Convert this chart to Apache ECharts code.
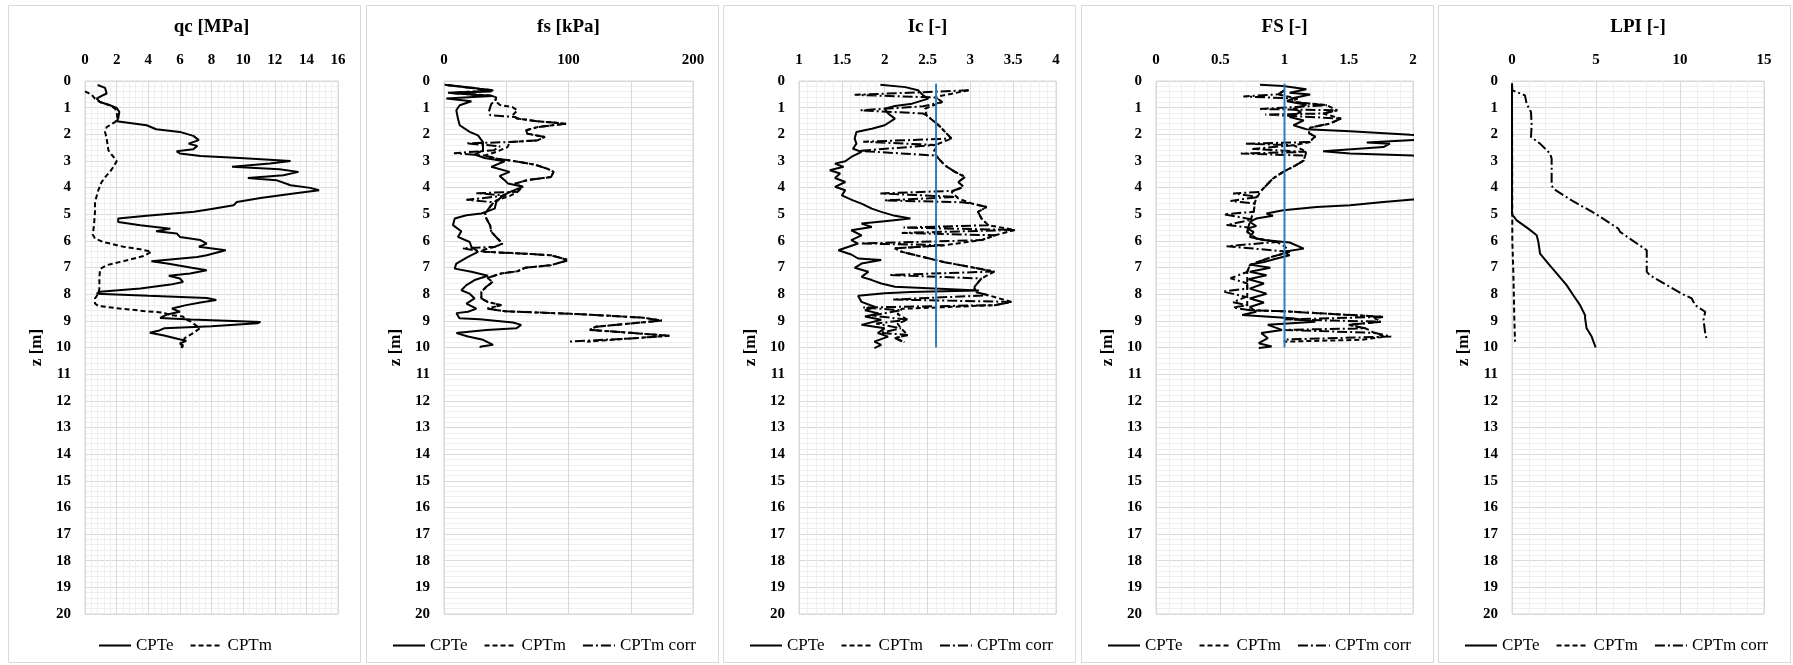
<!DOCTYPE html>
<html>
<head>
<meta charset="utf-8">
<script src="https://cdn.jsdelivr.net/npm/echarts@6/dist/echarts.min.js"></script>
<style>
  html, body { margin: 0; padding: 0; background: #fff; }
  #chart { width: 1793px; height: 665px; }
</style>
</head>
<body>
<div id="chart"></div>
<script>
// ---- CPT profiles: each point is [depth z (m), value] ----

// Cone resistance qc [MPa]
const qcCPTe = [[0.15,0.8],[0.26,1.27],[0.47,1.37],[0.56,1.05],[0.66,0.74],[0.79,0.95],[0.91,1.58],[1.01,2.0],[1.16,2.17],[1.41,2.1],[1.51,2.0],[1.66,3.9],[1.81,4.5],[1.91,6.0],[2.06,6.85],[2.22,7.2],[2.35,6.55],[2.44,7.1],[2.56,6.85],[2.64,5.8],[2.72,6.0],[2.81,7.3],[2.89,9.8],[3.0,13.0],[3.1,11.7],[3.22,9.3],[3.31,12.3],[3.41,13.5],[3.54,12.55],[3.64,10.3],[3.72,12.1],[3.91,13.0],[4.01,14.25],[4.1,14.8],[4.22,13.2],[4.39,11.1],[4.54,9.6],[4.66,9.4],[4.79,8.1],[4.91,6.9],[5.06,3.9],[5.16,2.1],[5.29,2.1],[5.41,3.5],[5.54,5.4],[5.64,4.5],[5.72,5.8],[5.85,6.0],[5.97,7.3],[6.1,7.7],[6.22,7.2],[6.35,8.9],[6.54,7.7],[6.6,7.1],[6.76,4.2],[6.85,5.2],[7.01,6.75],[7.1,7.7],[7.22,6.65],[7.31,5.3],[7.41,6.0],[7.54,6.2],[7.64,5.4],[7.79,3.5],[7.91,0.95],[7.98,0.74],[8.06,4.0],[8.14,7.7],[8.22,8.3],[8.31,7.3],[8.41,6.4],[8.54,5.5],[8.66,6.0],[8.76,5.2],[8.89,4.75],[8.95,6.7],[8.99,6.8],[9.04,11.1],[9.09,10.9],[9.2,8.0],[9.28,5.0],[9.36,4.7],[9.45,4.1],[9.55,5.0],[9.68,5.9],[9.75,6.4],[9.85,6.0],[9.95,6.2],[10.0,6.1]];
const qcCPTm = [[0.39,0.0],[0.51,0.42],[0.66,0.63],[0.79,0.95],[0.91,1.58],[1.04,1.9],[1.16,2.0],[1.41,2.05],[1.54,1.9],[1.73,1.37],[1.91,1.27],[2.16,1.37],[2.6,1.48],[2.85,1.8],[3.01,2.0],[3.22,1.8],[3.41,1.58],[3.54,1.37],[3.79,1.05],[4.1,0.84],[4.54,0.63],[4.91,0.63],[5.41,0.57],[5.76,0.49],[5.91,0.63],[6.04,1.16],[6.22,2.43],[6.31,3.48],[6.41,4.2],[6.57,3.7],[6.76,2.43],[6.91,1.37],[7.06,0.95],[7.41,0.91],[7.79,0.91],[7.98,0.84],[8.16,0.63],[8.35,0.63],[8.44,0.84],[8.54,2.2],[8.64,3.9],[8.69,4.95],[8.78,5.37],[8.84,6.2],[8.96,6.4],[9.03,6.7],[9.28,7.26],[9.46,6.84],[9.65,6.3],[9.84,6.2],[10.02,6.1]];

// Sleeve friction fs [kPa]
const fsCPTe = [[0.14,0.5],[0.26,24.6],[0.39,38],[0.44,3.2],[0.56,38],[0.66,1.9],[0.76,22],[0.91,12.6],[1.1,9.9],[1.41,11.2],[1.66,12.6],[1.91,20.6],[2.04,27.3],[2.29,31.3],[2.6,31.3],[2.76,24.6],[2.89,32.7],[3.01,48.7],[3.22,38],[3.41,52.7],[3.56,44.7],[3.72,48.7],[3.85,51.4],[3.97,63.5],[4.14,54],[4.29,47.4],[4.54,42],[4.79,40.7],[4.97,30],[5.04,18],[5.16,8.6],[5.41,7.2],[5.64,13.9],[5.85,11.2],[6.04,20.6],[6.22,22],[6.41,27.3],[6.6,19.3],[6.85,9.9],[7.04,8.6],[7.16,22],[7.31,35.3],[7.47,24.6],[7.66,18],[7.85,13.9],[7.98,20.6],[8.16,24.6],[8.35,18],[8.54,26],[8.66,19.3],[8.71,10],[8.9,12.4],[8.94,28.6],[9.06,55.4],[9.15,62],[9.28,58],[9.34,34],[9.46,10],[9.59,19.3],[9.71,31.3],[9.84,36.7],[9.9,39.4],[9.96,30],[10.0,28.6]];
const fsCPTm = [[0.15,2],[0.25,20],[0.35,40],[0.45,5],[0.55,38],[0.62,42],[0.75,41],[0.9,45],[0.98,55],[1.1,59],[1.29,55],[1.41,59],[1.51,75],[1.6,98],[1.73,75],[1.85,66],[1.98,67],[2.1,81],[2.23,75],[2.29,53],[2.48,51],[2.66,42],[2.79,33],[2.91,42],[3.01,57],[3.14,73],[3.29,83],[3.41,88],[3.6,86],[3.72,67],[3.85,57],[3.97,63],[4.16,59],[4.31,53],[4.48,42],[4.66,38],[4.97,33],[5.16,34],[5.41,37],[5.66,38],[5.91,43],[6.1,47],[6.22,41],[6.35,30],[6.41,33],[6.48,65],[6.54,86],[6.72,100],[6.91,86],[7.01,65],[7.14,59],[7.22,46],[7.39,35],[7.54,39],[7.72,34],[7.91,30],[8.16,30],[8.29,35],[8.41,46],[8.54,35],[8.64,49],[8.75,110],[8.88,160],[8.99,175],[9.1,150],[9.22,122],[9.34,117],[9.45,150],[9.56,181],[9.66,150],[9.78,115]];
const fsCPTmCorr = [[0.15,2],[0.25,20],[0.35,40],[0.45,5],[0.55,38],[0.62,42],[0.75,41],[0.86,38],[1.0,37],[1.16,36],[1.28,37],[1.35,57],[1.41,59],[1.51,75],[1.6,98],[1.73,75],[1.85,66],[1.98,67],[2.1,81],[2.23,75],[2.29,53],[2.34,18],[2.45,45],[2.6,40],[2.71,8],[2.8,33],[2.91,42],[3.01,57],[3.14,73],[3.29,83],[3.41,88],[3.6,86],[3.72,67],[3.85,57],[3.97,63],[4.16,59],[4.21,26],[4.3,50],[4.46,18],[4.55,40],[4.66,38],[4.97,33],[5.16,34],[5.41,37],[5.66,38],[5.91,43],[6.1,47],[6.22,41],[6.28,15],[6.41,33],[6.48,65],[6.54,86],[6.72,100],[6.91,86],[7.01,65],[7.14,59],[7.22,46],[7.39,35],[7.54,39],[7.72,34],[7.91,30],[8.16,30],[8.29,35],[8.41,46],[8.54,35],[8.64,49],[8.75,110],[8.88,160],[8.99,175],[9.1,150],[9.22,122],[9.34,117],[9.45,150],[9.56,181],[9.66,150],[9.78,100]];

// Soil behaviour type index Ic [-]
const icCPTe = [[0.14,1.95],[0.23,2.24],[0.35,2.39],[0.54,2.45],[0.66,2.51],[0.85,2.32],[0.94,2.12],[1.04,2.0],[1.22,2.04],[1.41,2.12],[1.66,2.0],[1.79,1.85],[1.91,1.67],[2.16,1.65],[2.35,1.67],[2.54,1.63],[2.66,1.73],[2.85,1.61],[3.01,1.54],[3.1,1.42],[3.22,1.52],[3.35,1.36],[3.47,1.48],[3.64,1.42],[3.79,1.54],[3.97,1.42],[4.1,1.54],[4.29,1.5],[4.48,1.63],[4.6,1.73],[4.79,1.85],[4.91,1.96],[5.06,2.12],[5.16,2.3],[5.26,2.0],[5.35,1.73],[5.48,1.85],[5.6,1.61],[5.79,1.73],[5.97,1.61],[6.1,1.69],[6.35,1.46],[6.51,1.61],[6.66,1.69],[6.72,1.96],[6.85,1.73],[7.01,1.65],[7.16,1.81],[7.35,1.73],[7.47,1.85],[7.6,1.96],[7.72,2.12],[7.86,3.1],[7.92,2.3],[7.96,2.0],[8.06,1.69],[8.29,1.73],[8.48,1.89],[8.6,1.77],[8.72,1.93],[8.84,1.77],[8.96,1.96],[9.15,1.73],[9.28,2.0],[9.46,1.92],[9.59,2.04],[9.78,1.88],[9.9,1.96],[10.02,1.88]];
const icCPTm = [[0.35,2.98],[0.6,2.59],[0.79,2.67],[1.04,2.47],[1.29,2.49],[1.66,2.63],[2.16,2.78],[2.35,2.63],[2.66,2.57],[2.91,2.63],[3.16,2.7],[3.41,2.82],[3.6,2.94],[3.79,2.86],[3.97,2.92],[4.16,2.78],[4.41,2.86],[4.6,3.02],[4.73,3.19],[4.91,3.09],[5.16,3.13],[5.41,3.21],[5.59,3.52],[5.79,3.29],[5.97,3.13],[6.16,2.7],[6.28,2.12],[6.41,2.2],[6.8,2.7],[7.15,3.28],[7.41,3.13],[7.72,3.05],[7.91,3.05],[8.04,3.21],[8.29,3.48],[8.41,3.29],[8.55,2.2],[8.75,2.15],[8.96,2.27],[9.1,2.15],[9.28,2.19],[9.53,2.27],[9.65,2.12],[9.8,2.23]];
const icCPTmCorr = [[0.35,2.98],[0.42,2.45],[0.52,1.65],[0.62,2.6],[0.79,2.67],[0.95,2.45],[1.1,1.72],[1.22,2.45],[1.29,2.49],[1.66,2.63],[2.16,2.78],[2.28,1.75],[2.4,2.6],[2.62,1.7],[2.8,2.6],[2.91,2.63],[3.16,2.7],[3.41,2.82],[3.6,2.94],[3.79,2.86],[3.97,2.92],[4.12,2.8],[4.22,1.95],[4.35,2.85],[4.48,2.0],[4.55,2.9],[4.6,3.02],[4.73,3.19],[4.91,3.09],[5.16,3.13],[5.41,3.21],[5.5,2.22],[5.59,3.52],[5.7,2.2],[5.79,3.29],[5.97,3.13],[6.1,1.72],[6.16,2.7],[6.28,2.12],[6.41,2.2],[6.8,2.7],[7.15,3.28],[7.28,2.05],[7.41,3.13],[7.72,3.05],[7.91,3.05],[8.04,3.21],[8.2,2.1],[8.29,3.48],[8.41,3.29],[8.5,1.75],[8.6,2.19],[8.8,1.85],[8.96,2.27],[9.1,1.9],[9.28,2.19],[9.45,1.95],[9.53,2.27],[9.65,2.12],[9.8,2.23]];
const icLimit = [[0.1,2.6],[10.0,2.6]];

// Factor of safety against liquefaction FS [-]
const fsfCPTe = [[0.14,0.81],[0.19,0.99],[0.31,1.17],[0.44,1.04],[0.51,1.2],[0.64,1.07],[0.76,1.02],[0.89,1.17],[1.04,1.07],[1.16,1.13],[1.35,1.04],[1.48,1.15],[1.66,1.07],[1.81,1.17],[1.89,1.51],[2.02,1.98],[2.1,2.4],[2.2,2.05],[2.31,1.64],[2.35,1.82],[2.48,1.77],[2.64,1.3],[2.72,1.51],[2.8,2.0],[2.86,2.6],[3.5,3.0],[4.38,2.6],[4.45,2.0],[4.54,1.77],[4.66,1.51],[4.73,1.25],[4.85,0.99],[4.97,0.86],[5.06,0.91],[5.16,0.78],[5.29,0.73],[5.44,0.78],[5.54,0.71],[5.66,0.76],[5.85,0.73],[5.97,0.84],[6.06,1.04],[6.29,1.15],[6.41,0.99],[6.54,1.04],[6.66,0.94],[6.79,0.84],[6.89,0.73],[7.01,0.89],[7.16,0.73],[7.29,0.86],[7.44,0.72],[7.6,0.84],[7.79,0.73],[7.98,0.86],[8.16,0.73],[8.31,0.84],[8.48,0.73],[8.66,0.78],[8.78,0.67],[8.9,1.06],[9.03,1.24],[9.15,0.87],[9.34,0.98],[9.46,0.82],[9.65,0.87],[9.84,0.8],[9.96,0.9],[10.02,0.8]];
const fsfCPTm = [[0.35,1.0],[0.5,0.95],[0.66,1.1],[0.78,1.05],[0.91,1.33],[1.1,1.41],[1.22,1.3],[1.41,1.44],[1.6,1.35],[1.75,1.2],[1.96,1.19],[2.09,1.24],[2.16,1.22],[2.29,1.2],[2.41,1.07],[2.66,1.17],[2.98,1.15],[3.16,1.09],[3.41,0.99],[3.66,0.91],[3.91,0.86],[4.16,0.81],[4.54,0.77],[4.91,0.76],[5.29,0.73],[5.66,0.71],[5.91,0.78],[6.04,0.94],[6.2,1.0],[6.41,1.04],[6.6,0.9],[6.91,0.73],[7.16,0.71],[7.79,0.71],[8.41,0.71],[8.6,0.73],[8.64,0.99],[8.75,1.4],[8.85,1.77],[8.9,1.7],[9.03,1.75],[9.15,1.5],[9.28,1.63],[9.45,1.7],[9.59,1.78],[9.71,1.6],[9.78,1.0]];
const fsfCPTmCorr = [[0.35,1.0],[0.5,0.95],[0.58,0.68],[0.66,1.1],[0.78,1.05],[0.91,1.33],[1.05,0.81],[1.1,1.41],[1.22,1.3],[1.26,0.85],[1.41,1.44],[1.6,1.35],[1.75,1.2],[1.96,1.19],[2.09,1.24],[2.16,1.22],[2.29,1.2],[2.35,0.7],[2.41,1.07],[2.55,0.75],[2.66,1.17],[2.72,0.66],[2.8,1.16],[2.98,1.15],[3.16,1.09],[3.41,0.99],[3.66,0.91],[3.91,0.86],[4.16,0.81],[4.22,0.6],[4.35,0.8],[4.5,0.58],[4.6,0.77],[4.91,0.76],[5.0,0.53],[5.2,0.75],[5.4,0.55],[5.5,0.72],[5.66,0.71],[5.91,0.78],[6.04,0.94],[6.2,0.55],[6.41,1.04],[6.6,0.9],[6.91,0.73],[7.16,0.71],[7.4,0.58],[7.6,0.71],[7.79,0.71],[7.9,0.52],[8.1,0.7],[8.3,0.6],[8.41,0.71],[8.5,0.6],[8.6,0.73],[8.64,0.99],[8.75,1.4],[8.85,1.77],[8.95,1.0],[9.03,1.75],[9.15,1.5],[9.28,1.63],[9.34,1.0],[9.45,1.7],[9.59,1.83],[9.7,1.0],[9.78,1.0]];
const fsfLimit = [[0.1,1.0],[10.0,1.0]];

// Liquefaction potential index LPI [-]
const lpiCPTe = [[0.1,0],[5.0,0],[5.04,0.02],[5.23,0.28],[5.54,0.97],[5.79,1.47],[6.04,1.57],[6.48,1.67],[6.85,2.16],[7.29,2.76],[7.66,3.25],[8.04,3.65],[8.41,4.05],[8.79,4.35],[8.9,4.35],[9.28,4.44],[9.59,4.74],[10.0,4.98]];
const lpiCPTm = [[0.1,0],[6.0,0.02],[7.16,0.08],[8.97,0.14],[9.78,0.18]];
const lpiCPTmCorr = [[0.1,0],[0.35,0.02],[0.54,0.77],[0.85,0.87],[1.16,1.13],[1.66,1.17],[2.1,1.13],[2.35,1.67],[2.72,2.26],[2.91,2.36],[3.91,2.36],[4.04,2.46],[4.48,3.55],[4.97,4.94],[5.54,6.33],[5.66,6.43],[6.35,8.02],[6.66,8.02],[7.16,8.02],[7.29,8.21],[7.98,10.1],[8.16,10.7],[8.41,10.9],[8.66,11.5],[8.96,11.4],[9.46,11.5],[9.71,11.6]];

// ---- panel definitions ----
const panelTitles = ['qc [MPa]', 'fs [kPa]', 'Ic [-]', 'FS [-]', 'LPI [-]'];
const xMin = [0, 0, 1, 0, 0];
const xMax = [16, 200, 4, 2, 15];
const xStep = [2, 50, 0.5, 0.5, 5];
const seriesNames = ['CPTe', 'CPTm', 'CPTm corr'];
const panelSeries = [
  [qcCPTe, qcCPTm],
  [fsCPTe, fsCPTm, fsCPTmCorr],
  [icCPTe, icCPTm, icCPTmCorr],
  [fsfCPTe, fsfCPTm, fsfCPTmCorr],
  [lpiCPTe, lpiCPTm, lpiCPTmCorr]
];
const limitLines = { 2: icLimit, 3: fsfLimit };
const depthMax = 20;

// ---- layout ----
const panelLeft = [8, 366, 723, 1081, 1438];
const panelWidth = 352;
const plotLeft = [85, 444, 799, 1156, 1512];
const plotRight = [338, 693, 1056, 1413, 1764];
const plotTop = 81, plotBottom = 614;
const serifFont = '"Liberation Serif", "Times New Roman", serif';
const dashTypes = ['solid', [5, 3], [10, 3, 2, 3]];
const minorX = [5, 0, 5, 5, 5];

const chart = echarts.init(document.getElementById('chart'), null, { renderer: 'canvas' });

// legend widths, so each legend sits centred in its panel
const measureCtx = document.createElement('canvas').getContext('2d');
const legendFontSize = 17;
measureCtx.font = legendFontSize + 'px "Liberation Serif"';
const legendItemW = 32, legendGap = 16;
function legendWidth(names) {
  let w = 0;
  names.forEach((n, k) => { w += legendItemW + 5 + measureCtx.measureText(n).width + (k ? legendGap : 0); });
  return w;
}

const grids = [], xAxes = [], yAxes = [], series = [], legends = [], graphics = [];

panelTitles.forEach((title, i) => {
  graphics.push({
    type: 'rect', silent: true, z: -10,
    shape: { x: panelLeft[i] + 0.5, y: 5.5, width: panelWidth, height: 657 },
    style: { fill: '#fff', stroke: '#d9d9d9', lineWidth: 1 }
  });
  grids.push({
    left: plotLeft[i], top: plotTop,
    width: plotRight[i] - plotLeft[i], height: plotBottom - plotTop,
    show: true, borderColor: '#d9d9d9', borderWidth: 1, backgroundColor: 'transparent'
  });
  xAxes.push({
    gridIndex: i, type: 'value', position: 'top',
    min: xMin[i], max: xMax[i], interval: xStep[i],
    name: title, nameLocation: 'middle', nameGap: 44,
    nameTextStyle: { fontFamily: serifFont, fontWeight: 'bold', fontSize: 19, color: '#000' },
    axisLine: { show: false }, axisTick: { show: false },
    axisLabel: {
      margin: 13, fontFamily: serifFont, fontWeight: 'bold', fontSize: 15, color: '#000',
      showMinLabel: true, showMaxLabel: true,
      formatter: i === 1 ? (v => (v % 100 === 0 ? String(v) : '')) : (v => String(v))
    },
    splitLine: { show: true, lineStyle: { color: '#d9d9d9', width: 1 } },
    minorTick: { show: false, splitNumber: minorX[i] || 5 },
    minorSplitLine: { show: minorX[i] > 0, lineStyle: { color: '#eeeeee', width: 1 } }
  });
  yAxes.push({
    gridIndex: i, type: 'value', inverse: true,
    min: 0, max: depthMax, interval: 1,
    name: 'z [m]', nameLocation: 'middle', nameGap: 40, nameRotate: 90,
    nameTextStyle: { fontFamily: serifFont, fontWeight: 'bold', fontSize: 17, color: '#000' },
    axisLine: { show: false }, axisTick: { show: false },
    axisLabel: { margin: 14, fontFamily: serifFont, fontWeight: 'bold', fontSize: 15, color: '#000' },
    splitLine: { show: true, lineStyle: { color: '#d9d9d9', width: 1 } },
    minorTick: { show: false, splitNumber: 5 },
    minorSplitLine: { show: true, lineStyle: { color: '#eeeeee', width: 1 } }
  });

  const names = seriesNames.slice(0, panelSeries[i].length);
  panelSeries[i].forEach((arr, k) => {
    series.push({
      type: 'line', name: names[k],
      xAxisIndex: i, yAxisIndex: i,
      data: arr.map(([z, v]) => [v, z]),
      symbol: 'none', showSymbol: false, clip: true,
      lineStyle: { color: '#000', width: 2, type: dashTypes[k] },
      itemStyle: { color: '#000' },
      animation: false, z: 3
    });
  });
  if (limitLines[i]) {
    series.push({
      type: 'line', name: 'limit' + i,
      xAxisIndex: i, yAxisIndex: i,
      data: limitLines[i].map(([z, v]) => [v, z]),
      symbol: 'none', showSymbol: false,
      lineStyle: { color: '#2f7dc0', width: 2 },
      itemStyle: { color: '#2f7dc0' },
      animation: false, z: 4
    });
  }

  const lw = legendWidth(names);
  legends.push({
    data: names, selectedMode: false,
    left: Math.round(panelLeft[i] + panelWidth / 2 - lw / 2), top: 637,
    itemWidth: legendItemW, itemHeight: 12, itemGap: legendGap, padding: 0,
    itemStyle: { opacity: 0 },
    lineStyle: { width: 2 },
    textStyle: { fontFamily: serifFont, fontSize: legendFontSize, color: '#000' }
  });
});

chart.setOption({
  backgroundColor: '#fff',
  animation: false,
  graphic: graphics,
  grid: grids,
  xAxis: xAxes,
  yAxis: yAxes,
  legend: legends,
  series: series
});
</script>
</body>
</html>
